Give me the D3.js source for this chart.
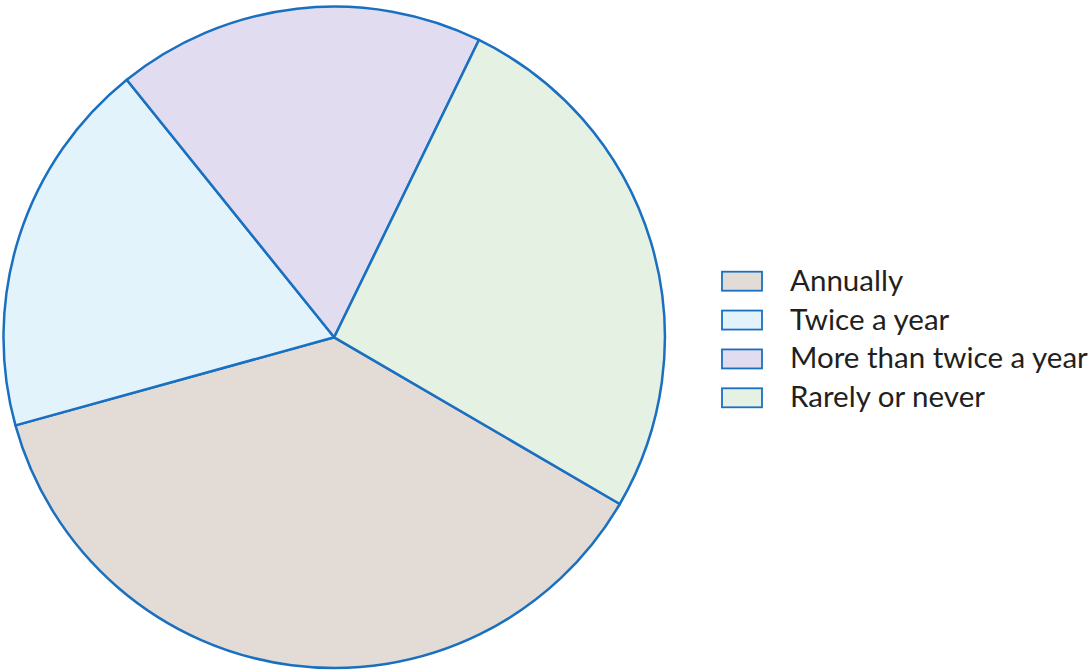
<!DOCTYPE html>
<html><head><meta charset="utf-8">
<script src="https://cdn.jsdelivr.net/npm/d3@7"></script>
<style>html,body{margin:0;padding:0;background:#fff;}svg{display:block;}</style>
</head><body>
<svg id="chart" width="1090" height="671"></svg>
<script>
const categories = ["Annually", "Twice a year", "More than twice a year", "Rarely or never"];
const values = [37.3, 18.5, 18.0, 26.2];
const colors = ["#e3dbd6", "#e3f3fb", "#e1dcef", "#e5f1e3"];
const strokeColor = "#1a70c0";

const svg = d3.select("#chart");
const cx = 334.2, cy = 337.3, r = 330.7;
const start = 120.27 * Math.PI / 180;

const pie = d3.pie().sort(null).value(d => d.v).startAngle(start).endAngle(start + 2 * Math.PI);
const arc = d3.arc().innerRadius(0).outerRadius(r);
const data = categories.map((c, i) => ({ c, v: values[i], col: colors[i] }));

const g = svg.append("g").attr("transform", `translate(${cx},${cy})`);
g.selectAll("path").data(pie(data)).enter().append("path")
  .attr("d", arc)
  .attr("fill", d => d.data.col)
  .attr("stroke", strokeColor)
  .attr("stroke-width", 2.5)
  .attr("stroke-linejoin", "round");

const lg = svg.append("g");
const rowY = d3.scaleLinear().domain([0, 3]).range([270.7, 387.3]);
const rows = lg.selectAll("g").data(data).enter().append("g")
  .attr("transform", (d, i) => `translate(0,${rowY(i)})`);
rows.append("rect").attr("x", 722).attr("y", 1).attr("width", 40).attr("height", 19)
  .attr("fill", d => d.col).attr("stroke", strokeColor).attr("stroke-width", 1.8);
const texts = rows.append("text").attr("x", 790).attr("y", 20)
  .attr("font-family", "Lato, 'Open Sans', sans-serif").attr("font-size", 26)
  .attr("fill", "#231f20").text(d => d.c);
// fit font size so the longest label spans the same width as the reference
const longest = texts.filter((d, i) => i === 2).node();
const w = longest.getComputedTextLength();
const fs = 26 * 298 / w;
texts.attr("font-size", fs);
</script>
</body></html>
